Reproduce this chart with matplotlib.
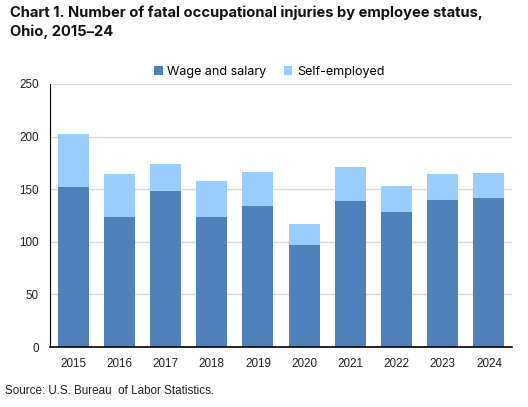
import matplotlib

matplotlib.use("Agg")
import matplotlib.pyplot as plt
import numpy as np

years = ["2015", "2016", "2017", "2018", "2019", "2020", "2021", "2022", "2023", "2024"]
wage_salary = [152, 124, 148, 124, 134, 97, 139, 128, 140, 142]
self_employed = [50, 40, 26, 34, 32, 20, 32, 25, 24, 23]

WAGE_COLOR = "#4f81bd"
SELF_COLOR = "#99ccff"


def main():
    fig = plt.figure(figsize=(5.28, 4.07), dpi=100)
    ax = fig.add_axes([50 / 528, 1 - 347 / 407, 462 / 528, 263 / 407])

    x = np.arange(len(years))
    width = 0.67
    ax.bar(x, wage_salary, width, color=WAGE_COLOR, label="Wage and salary", zorder=2)
    ax.bar(x, self_employed, width, bottom=wage_salary, color=SELF_COLOR,
           label="Self-employed", zorder=2)

    ax.set_xlim(-0.5, len(years) - 0.5)
    ax.set_ylim(0, 250)
    ax.set_yticks(range(0, 251, 50))
    ax.set_xticks(x)
    ax.set_xticklabels(years)
    ax.yaxis.grid(True, color="#d9d9d9", linewidth=1, zorder=0)
    ax.set_axisbelow(True)
    ax.spines[["top", "right"]].set_visible(False)
    ax.spines["left"].set_color("black")
    ax.spines["bottom"].set_color("black")
    ax.spines["bottom"].set_linewidth(1.2)
    ax.tick_params(axis="both", length=0, labelsize=8.4, colors="#222222")
    ax.tick_params(axis="y", pad=8)
    ax.tick_params(axis="x", pad=8)
    for lab in ax.get_xticklabels() + ax.get_yticklabels():
        lab.set_fontfamily("Liberation Sans")

    fig.legend(*ax.get_legend_handles_labels(), loc="center",
               bbox_to_anchor=(269 / 528, 1 - 72 / 407), ncol=2, frameon=False,
               prop={"family": "Inter", "size": 9}, handlelength=0.7,
               handleheight=0.7, handletextpad=0.35, columnspacing=1.4,
               borderaxespad=0.0)

    fig.text(10 / 528, 1 - 6 / 407,
             "Chart 1. Number of fatal occupational injuries by employee status,\nOhio, 2015\u201324",
             ha="left", va="top", fontsize=10.6, fontweight="bold", family="Inter",
             linespacing=1.35, color="#111111")
    fig.text(5 / 528, 1 - 391 / 407, "Source: U.S. Bureau  of Labor Statistics.",
             ha="left", va="center", fontsize=8.4, family="Liberation Sans", color="#222222")

    fig.savefig("out.png", dpi=100)
    plt.close(fig)


if __name__ == "__main__":
    main()
